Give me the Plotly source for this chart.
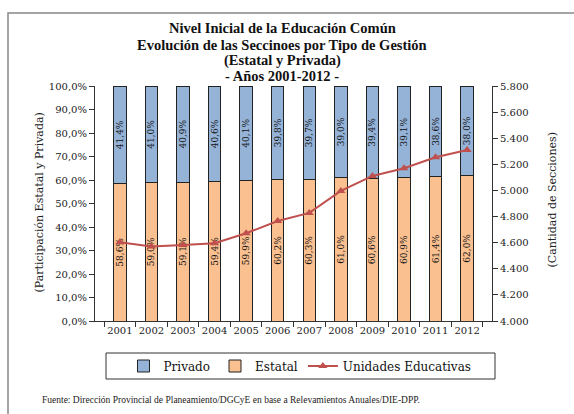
import plotly.graph_objects as go

years = ["2001", "2002", "2003", "2004", "2005", "2006", "2007", "2008", "2009", "2010", "2011", "2012"]
estatal = [58.6, 59.0, 59.1, 59.4, 59.9, 60.2, 60.3, 61.0, 60.6, 60.9, 61.4, 62.0]
privado = [41.4, 41.0, 40.9, 40.6, 40.1, 39.8, 39.7, 39.0, 39.4, 39.1, 38.6, 38.0]
unidades = [4603, 4570, 4582, 4595, 4672, 4766, 4828, 4996, 5111, 5170, 5254, 5310]
title_lines = ["Nivel Inicial de la Educación Común",
               "Evolución de las Seccinoes por Tipo de Gestión",
               "(Estatal y Privada)",
               "- Años 2001-2012 -"]

W, H = 574, 414
L, R, T, B = 95, 82, 86, 93
pw, ph = W - L - R, H - T - B

def px(x):
    return (x - L) / pw

def py(y):
    return (H - B - y) / ph

SERIF = "DejaVu Serif"
TSERIF = "Liberation Serif"

fig = go.Figure()
fig.add_trace(go.Bar(
    x=years, y=estatal, name="Estatal", legendrank=2,
    marker=dict(color="#FAC090", line=dict(color="#222222", width=1)),
    texttemplate="%{y:.1f}%", textposition="inside", insidetextanchor="middle",
    textangle=-90, constraintext="none",
    textfont=dict(family=SERIF, size=9, color="#111111"),
))
fig.add_trace(go.Bar(
    x=years, y=privado, name="Privado", legendrank=1,
    marker=dict(color="#95B3D7", line=dict(color="#222222", width=1)),
    texttemplate="%{y:.1f}%", textposition="inside", insidetextanchor="middle",
    textangle=-90, constraintext="none",
    textfont=dict(family=SERIF, size=9, color="#111111"),
))
fig.add_trace(go.Scatter(
    x=years, y=unidades, name="Unidades Educativas", yaxis="y2", legendrank=3,
    mode="lines+markers",
    line=dict(color="#C0504D", width=2),
    marker=dict(symbol="triangle-up", size=8, color="#C0504D"),
))

fig.update_layout(
    width=W, height=H,
    margin=dict(l=L, r=R, t=T, b=B, autoexpand=False),
    paper_bgcolor="white", plot_bgcolor="white",
    separators=",.",
    barmode="stack", bargap=0.61,
    showlegend=True,
    font=dict(family=SERIF, size=10, color="#222222"),
    xaxis=dict(
        showline=True, linecolor="#333333", linewidth=1,
        ticks="outside", tickson="boundaries", ticklen=5, tickcolor="#333333",
        tickangle=0, automargin=False,
        tickfont=dict(family=SERIF, size=10, color="#222222"),
        showgrid=False,
    ),
    yaxis=dict(
        range=[0, 100], dtick=10, tickformat=".1f", ticksuffix="%",
        showline=True, linecolor="#333333", linewidth=1,
        ticks="outside", ticklen=5, tickcolor="#333333",
        showgrid=False, zeroline=False, automargin=False,
        tickfont=dict(family=SERIF, size=10, color="#222222"),
    ),
    yaxis2=dict(
        overlaying="y", side="right", range=[4000, 5800], dtick=200,
        tickformat=",d",
        showline=True, linecolor="#333333", linewidth=1,
        ticks="outside", ticklen=5, tickcolor="#333333",
        showgrid=False, zeroline=False, automargin=False,
        tickfont=dict(family=SERIF, size=10, color="#222222"),
    ),
    legend=dict(
        orientation="h", traceorder="normal",
        x=px(300), xanchor="center", y=py(366), yanchor="middle",
        font=dict(family=SERIF, size=12, color="#111111"),
        bgcolor="rgba(0,0,0,0)", itemwidth=30,
    ),
)

fig.add_shape(type="rect", xref="paper", yref="paper",
              x0=px(106), x1=px(495), y0=py(379), y1=py(353),
              line=dict(color="#333333", width=1), fillcolor="rgba(0,0,0,0)", layer="below")
fig.add_shape(type="rect", xref="paper", yref="paper",
              x0=px(8), x1=px(590), y0=py(430), y1=py(13),
              line=dict(color="#888888", width=1.5), fillcolor="rgba(0,0,0,0)", layer="below")

for line_text, yc in zip(title_lines, [28, 45, 61, 76]):
    fig.add_annotation(text="<b>" + line_text + "</b>", xref="paper", yref="paper",
                       x=px(282), y=py(yc), xanchor="center", yanchor="middle", showarrow=False,
                       font=dict(family=TSERIF, size=14.5, color="#111111"))

fig.add_annotation(text="(Participación Estatal y Privada)", xref="paper", yref="paper",
                   x=px(30), y=py(203), textangle=-90, showarrow=False,
                   font=dict(family=SERIF, size=11, color="#222222"))
fig.add_annotation(text="(Cantidad de Secciones)", xref="paper", yref="paper",
                   x=px(560), y=py(200), textangle=-90, showarrow=False,
                   font=dict(family=SERIF, size=11, color="#222222"))
fig.add_annotation(text="Fuente: Dirección Provincial de Planeamiento/DGCyE en base a Relevamientos Anuales/DIE-DPP.",
                   xref="paper", yref="paper", x=px(40), y=py(400), xanchor="left", yanchor="middle",
                   showarrow=False, font=dict(family=TSERIF, size=9.5, color="#222222"))

fig.write_html("out.html", config={"displayModeBar": False},
               post_script="document.body.style.margin='0';")
